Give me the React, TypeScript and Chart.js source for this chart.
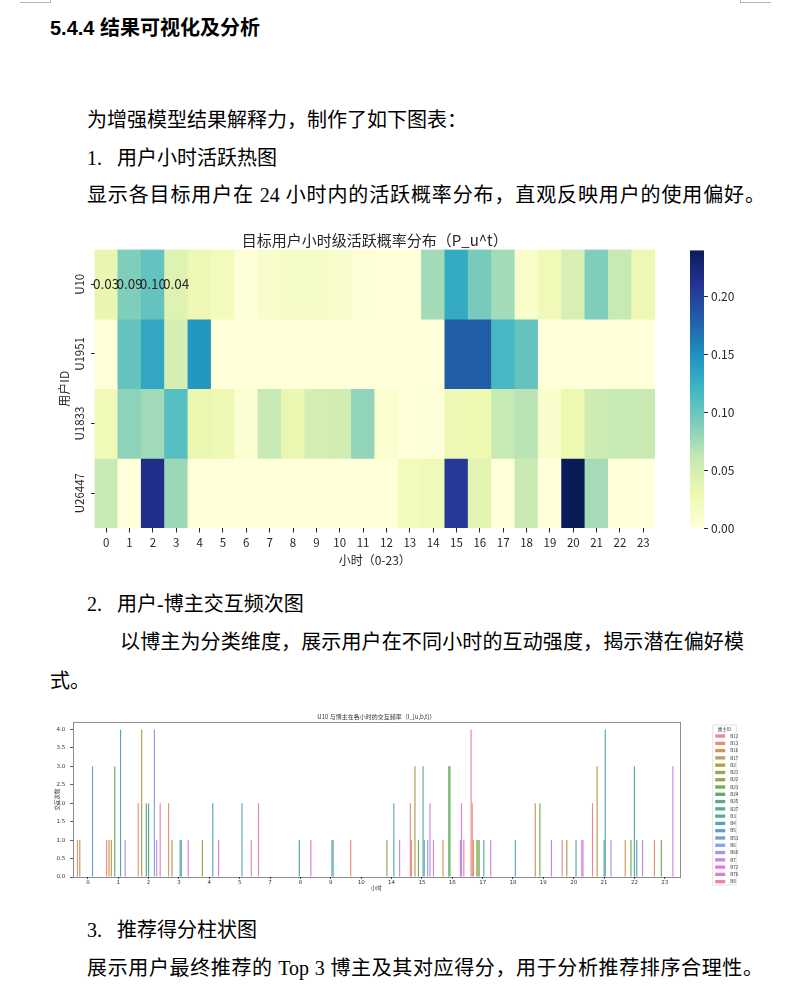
import React, { useEffect, useRef } from "react";
import { Chart, registerables } from "chart.js";

Chart.register(...registerables);

const FONT_CJK = '"Noto Sans CJK SC", sans-serif';
const FONT_NUM = '"DejaVu Sans", "Noto Sans CJK SC", sans-serif';
Chart.defaults.font.family = FONT_CJK;

// ---------- Heatmap data ----------
const heatHours = ["0", "1", "2", "3", "4", "5", "6", "7", "8", "9", "10", "11", "12", "13", "14", "15", "16", "17", "18", "19", "20", "21", "22", "23"];
const heatUsers = ["U10", "U1951", "U1833", "U26447"];
const heatU10 = [0.034, 0.09, 0.103, 0.042, 0.028, 0.02, 0.001, 0.01, 0.015, 0.015, 0.01, 0.003, 0, 0, 0.075, 0.13, 0.094, 0.075, 0.01, 0.025, 0.048, 0.09, 0.06, 0.028];
const heatU1951 = [0, 0.103, 0.132, 0.05, 0.145, 0, 0, 0, 0, 0, 0, 0, 0, 0, 0, 0.18, 0.18, 0.118, 0.103, 0, 0, 0, 0, 0];
const heatU1833 = [0.025, 0.084, 0.076, 0.11, 0.032, 0.026, 0.006, 0.06, 0.032, 0.05, 0.052, 0.082, 0.008, 0, 0.001, 0.028, 0.03, 0.06, 0.065, 0.01, 0.03, 0.055, 0.06, 0.058];
const heatU26447 = [0.058, 0, 0.215, 0.078, 0, 0, 0, 0, 0, 0, 0, 0, 0, 0.02, 0.024, 0.205, 0.038, 0, 0.058, 0, 0.24, 0.074, 0, 0];
const heatRows = [heatU10, heatU1951, heatU1833, heatU26447];
const annotatedHoursU10 = [0, 1, 2, 3];
const colorbarTicks = [0, 0.05, 0.1, 0.15, 0.2];
const YLGNBU = ["#ffffd9", "#edf8b1", "#c7e9b4", "#7fcdbb", "#41b6c4", "#1d91c0", "#225ea8", "#253494", "#081d58"];

// ---------- Interaction bar data ----------
const barHours = ["0", "1", "2", "3", "4", "5", "7", "8", "9", "10", "14", "15", "16", "17", "18", "19", "20", "21", "22", "23"];
const bloggers = ["B12", "B13", "B16", "B17", "B2", "B21", "B22", "B23", "B24", "B25", "B27", "B3", "B4", "B5", "B53", "B6", "B68", "B7", "B72", "B76", "B8"];
const bB12 = [0, 1, 0, 0, 0, 0, 2, 0, 0, 0, 0, 2, 0, 4, 0, 0, 1, 2, 0, 0];
const bB13 = [1, 0, 2, 2, 0, 0, 0, 0, 0, 1, 0, 1, 0, 2, 0, 0, 0, 0, 0, 1];
const bB16 = [0, 1, 0, 0, 0, 0, 0, 0, 0, 0, 0, 0, 1, 1, 0, 0, 0, 0, 1, 0];
const bB17 = [1, 0, 0, 0, 0, 0, 0, 0, 0, 0, 0, 0, 0, 0, 0, 2, 0, 0, 0, 0];
const bB2 = [0, 1, 4, 1, 1, 0, 0, 0, 0, 0, 0, 3, 0, 0, 0, 0, 1, 3, 0, 0];
const bB21 = [0, 0, 0, 0, 0, 0, 0, 0, 0, 0, 0, 0, 0, 1, 0, 0, 0, 0, 0, 0];
const bB22 = [0, 0, 0, 0, 0, 0, 0, 0, 0, 0, 1, 0, 0, 1, 0, 0, 0, 0, 0, 0];
const bB23 = [0, 3, 0, 0, 0, 0, 0, 0, 0, 0, 0, 1, 3, 1, 0, 2, 0, 0, 1, 1];
const bB24 = [0, 0, 2, 0, 0, 0, 0, 0, 0, 0, 0, 0, 3, 0, 0, 0, 0, 0, 0, 0];
const bB25 = [0, 0, 0, 0, 0, 0, 0, 1, 0, 0, 0, 0, 0, 0, 0, 0, 0, 0, 0, 0];
const bB27 = [0, 0, 2, 0, 0, 0, 0, 0, 0, 0, 0, 0, 0, 0, 0, 0, 0, 1, 3, 0];
const bB3 = [0, 0, 0, 1, 0, 0, 0, 0, 1, 0, 0, 3, 0, 1, 0, 0, 0, 4, 0, 0];
const bB4 = [0, 4, 0, 1, 0, 2, 0, 0, 1, 0, 2, 1, 0, 0, 1, 0, 1, 0, 1, 0];
const bB5 = [0, 0, 0, 0, 2, 0, 0, 0, 0, 0, 0, 0, 0, 0, 0, 0, 0, 0, 0, 0];
const bB53 = [3, 0, 0, 0, 0, 0, 0, 0, 0, 0, 0, 0, 0, 0, 0, 0, 0, 0, 0, 0];
const bB6 = [0, 0, 4, 0, 0, 0, 0, 0, 0, 0, 0, 1, 0, 0, 0, 0, 0, 0, 0, 0];
const bB68 = [0, 1, 0, 0, 0, 0, 0, 0, 0, 0, 0, 0, 0, 0, 0, 0, 0, 1, 0, 0];
const bB7 = [0, 0, 1, 0, 0, 0, 0, 0, 0, 0, 1, 2, 1, 1, 0, 1, 1, 0, 1, 3];
const bB72 = [0, 0, 0, 1, 1, 0, 0, 0, 0, 0, 0, 0, 2, 0, 0, 0, 1, 0, 0, 0];
const bB76 = [0, 0, 0, 0, 0, 0, 0, 1, 0, 0, 0, 0, 0, 0, 0, 0, 0, 0, 0, 0];
const bB8 = [0, 0, 2, 0, 0, 1, 0, 0, 0, 0, 0, 1, 1, 0, 0, 0, 0, 0, 0, 0];
const bloggerSeries = [bB12, bB13, bB16, bB17, bB2, bB21, bB22, bB23, bB24, bB25, bB27, bB3, bB4, bB5, bB53, bB6, bB68, bB7, bB72, bB76, bB8];
const bloggerColors = ["#e98a98", "#e8907a", "#d8954f", "#c49a55", "#ad9f52", "#9ea352", "#8ea852", "#6aae55", "#55ad72", "#55ab8c", "#56aa9b", "#57a9a6", "#58a7b2", "#5aa4c2", "#6aa1dc", "#8f9ee8", "#a895e8", "#c486e6", "#e07bdc", "#e37dc6", "#e585ac"];
const barYTicks = [0, 0.5, 1, 1.5, 2, 2.5, 3, 3.5, 4];

// ---------- helpers ----------
function hexToRgb(h: string) {
  const n = parseInt(h.slice(1), 16);
  return [(n >> 16) & 255, (n >> 8) & 255, n & 255];
}
function cmap(t: number) {
  const tt = Math.max(0, Math.min(1, t)) * (YLGNBU.length - 1);
  const i = Math.min(Math.floor(tt), YLGNBU.length - 2);
  const f = tt - i;
  const a = hexToRgb(YLGNBU[i]);
  const b = hexToRgb(YLGNBU[i + 1]);
  const c = a.map((av, k) => Math.round(av + (b[k] - av) * f));
  return `rgb(${c[0]},${c[1]},${c[2]})`;
}
function textColorFor(t: number) {
  const m = cmap(t).match(/\d+/g)!.map(Number).map((v) => {
    const s = v / 255;
    return s <= 0.03928 ? s / 12.92 : Math.pow((s + 0.055) / 1.055, 2.4);
  });
  const lum = 0.2126 * m[0] + 0.7152 * m[1] + 0.0722 * m[2];
  return lum > 0.408 ? "#262626" : "#ffffff";
}

const vmax = Math.max(...heatRows.flat());

function makeHeat(canvas: HTMLCanvasElement) {
  const decor = {
    id: "heatDecor",
    afterDatasetsDraw(chart: any) {
      const { ctx } = chart;
      const x = chart.scales.x;
      const y = chart.scales.y;
      ctx.save();
      ctx.font = `13.5px ${FONT_CJK}`;
      ctx.textAlign = "center";
      ctx.textBaseline = "middle";
      annotatedHoursU10.forEach((h) => {
        const v = heatU10[h];
        ctx.fillStyle = textColorFor(v / vmax);
        ctx.fillText(v.toFixed(2), x.getPixelForValue(h), y.getPixelForValue(0.5));
      });
      ctx.restore();
    },
    afterDraw(chart: any) {
      const { ctx, chartArea } = chart;
      const y = chart.scales.y;
      ctx.save();
      ctx.fillStyle = "#262626";
      ctx.font = `15px ${FONT_CJK}`;
      ctx.textAlign = "center";
      ctx.textBaseline = "middle";
      ctx.fillText("目标用户小时级活跃概率分布（P_u^t）", (chartArea.left + chartArea.right) / 2, 14);
      ctx.font = `11.5px ${FONT_CJK}`;
      heatUsers.forEach((u, i) => {
        ctx.save();
        ctx.translate(40, y.getPixelForValue(i + 0.5));
        ctx.rotate(-Math.PI / 2);
        ctx.fillText(u, 0, 0);
        ctx.restore();
      });
      ctx.restore();
    },
  };
  return new Chart(canvas, {
    type: "bar",
    data: {
      labels: heatHours,
      datasets: heatRows.map((row, r) => ({
        label: heatUsers[r],
        data: row.map(() => [r, r + 1]),
        backgroundColor: row.map((v) => cmap(v / vmax)),
        borderWidth: 0,
        barPercentage: 1,
        categoryPercentage: 1,
        grouped: false,
      })) as any,
    },
    options: {
      responsive: false,
      animation: false,
      layout: { padding: { top: 23.5, right: 25, bottom: 0, left: 0 } },
      plugins: { legend: { display: false }, tooltip: { enabled: false }, title: { display: false } },
      scales: {
        x: {
          type: "category",
          grid: { display: true, drawOnChartArea: false, drawTicks: true, tickLength: 4.5, offset: false, color: "#262626" },
          border: { display: false },
          ticks: { font: { size: 11.5, family: FONT_CJK }, color: "#262626", padding: 3.5, autoSkip: false, maxRotation: 0 },
          title: { display: true, text: "小时（0-23）", font: { size: 12, family: FONT_CJK }, color: "#262626", padding: { top: 0, bottom: 8.8 } },
          afterFit: (s: any) => { s.height = 48; },
        },
        y: {
          type: "linear",
          min: 0,
          max: 4,
          reverse: true,
          afterBuildTicks: (s: any) => { s.ticks = heatUsers.map((_, i) => ({ value: i + 0.5 })); },
          ticks: { display: false },
          grid: { display: true, drawOnChartArea: false, drawTicks: true, tickLength: 3.5, color: "#262626" },
          border: { display: false },
          title: { display: true, text: "用户ID", font: { size: 12, family: FONT_CJK }, color: "#262626", padding: { top: 16.8, bottom: 0 } },
          afterFit: (s: any) => { s.width = 54.5; },
        },
      },
    } as any,
    plugins: [decor],
  });
}

function makeColorbar(canvas: HTMLCanvasElement) {
  return new Chart(canvas, {
    type: "bar",
    data: {
      labels: ["P_u^t"],
      datasets: [
        {
          data: [[0, vmax]] as any,
          backgroundColor: (c: any) => {
            const area = c.chart.chartArea;
            if (!area) return "transparent";
            const g = c.chart.ctx.createLinearGradient(0, area.bottom, 0, area.top);
            YLGNBU.forEach((col, i) => g.addColorStop(i / (YLGNBU.length - 1), col));
            return g;
          },
          borderWidth: 0,
          barPercentage: 1,
          categoryPercentage: 1,
          inflateAmount: 0,
        } as any,
      ],
    },
    options: {
      responsive: false,
      animation: false,
      layout: { padding: { left: 10, top: 9.5, bottom: 12, right: 0 } },
      plugins: { legend: { display: false }, tooltip: { enabled: false } },
      scales: {
        x: { display: false },
        y: {
          position: "right",
          min: 0,
          max: vmax,
          afterBuildTicks: (s: any) => { s.ticks = colorbarTicks.map((v) => ({ value: v })); },
          ticks: { callback: (v: any) => Number(v).toFixed(2), padding: 3, font: { size: 12, family: FONT_CJK }, color: "#262626" },
          grid: { display: true, drawOnChartArea: false, tickLength: 4, color: "#262626" },
          border: { display: false },
          afterFit: (s: any) => { s.width = 76; },
        },
      },
    } as any,
  });
}

function makeBars(canvas: HTMLCanvasElement) {
  const decor = {
    id: "barDecor",
    afterDraw(chart: any) {
      const { ctx, chartArea: a } = chart;
      ctx.save();
      ctx.strokeStyle = "rgba(0,0,0,0.45)";
      ctx.lineWidth = 1;
      ctx.strokeRect(Math.round(a.left) + 0.5, Math.round(a.top) + 0.5, Math.round(a.right - a.left), Math.round(a.bottom - a.top));
      ctx.fillStyle = "#333";
      ctx.font = `6px ${FONT_CJK}`;
      ctx.textAlign = "center";
      ctx.textBaseline = "middle";
      ctx.fillText("U10 与博主在各小时的交互频率（I_{u,b,t}）", (a.left + a.right) / 2, 11.5);
      // legend
      const lx = 672.7, ly = 20, lw = 23.5, lh = 160;
      ctx.strokeStyle = "#d6d6d6";
      ctx.lineWidth = 0.7;
      ctx.beginPath();
      ctx.rect(lx, ly, lw, lh);
      ctx.stroke();
      ctx.font = `4.6px ${FONT_CJK}`;
      ctx.fillStyle = "#333";
      ctx.fillText("博主ID", lx + lw / 2, ly + 3.8);
      ctx.textAlign = "left";
      chart.data.datasets.forEach((ds: any, j: number) => {
        const yy = ly + 11 + j * 7.28;
        ctx.fillStyle = ds.backgroundColor;
        ctx.fillRect(lx + 2.5, yy - 1.6, 10, 3.3);
        ctx.fillStyle = "#333";
        ctx.fillText(ds.label, lx + 17.5, yy);
      });
      ctx.restore();
    },
  };
  return new Chart(canvas, {
    type: "bar",
    data: {
      labels: barHours,
      datasets: bloggers.map((b, k) => ({
        label: b,
        data: bloggerSeries[k],
        backgroundColor: bloggerColors[k],
        borderWidth: 0,
        barPercentage: 1,
        categoryPercentage: 0.8,
      })),
    },
    options: {
      responsive: false,
      animation: false,
      layout: { padding: { top: 17, right: 70, bottom: 0, left: 0 } },
      plugins: { legend: { display: false }, tooltip: { enabled: false } },
      scales: {
        x: {
          grid: { display: true, drawOnChartArea: false, tickLength: 2, offset: false, color: "#555" },
          border: { display: false },
          ticks: { font: { size: 5.5, family: FONT_NUM }, color: "#333", padding: 0, autoSkip: false, maxRotation: 0 },
          title: { display: true, text: "小时", font: { size: 5.5, family: FONT_CJK }, color: "#333", padding: { top: 0, bottom: 8.7 } },
          afterFit: (s: any) => { s.height = 23; },
        },
        y: {
          min: 0,
          max: 4.2,
          afterBuildTicks: (s: any) => { s.ticks = barYTicks.map((v) => ({ value: v })); },
          ticks: { callback: (v: any) => Number(v).toFixed(1), font: { size: 5.5, family: FONT_NUM }, color: "#333", padding: 5 },
          grid: { display: true, drawOnChartArea: false, tickLength: 2.5, color: "#555" },
          border: { display: false },
          title: { display: true, text: "交互次数", font: { size: 5.5, family: FONT_CJK }, color: "#333", padding: { top: 13.7, bottom: 0 } },
          afterFit: (s: any) => { s.width = 32.7; },
        },
      },
    } as any,
    plugins: [decor],
  });
}

const BODY_FONT = '"Liberation Serif", "Noto Sans CJK SC", serif';

function Line(props: { x: number; cy: number; text: string; width?: number; bold?: boolean; size?: number }) {
  const size = props.size || 20;
  const style: React.CSSProperties = {
    position: "absolute",
    left: props.x,
    top: props.cy - size * 0.45,
    fontSize: size,
    lineHeight: `${size}px`,
    fontFamily: props.bold ? '"Liberation Sans", "Noto Sans CJK SC", sans-serif' : BODY_FONT,
    fontWeight: props.bold ? 700 : 400,
    color: "#000",
    whiteSpace: props.width ? "normal" : "nowrap",
  };
  if (props.width) {
    style.width = props.width;
    style.textAlign = "justify";
    (style as any).textAlignLast = "justify";
  }
  return <div style={style}>{props.text}</div>;
}

export default function App() {
  const heatRef = useRef<HTMLCanvasElement>(null);
  const cbRef = useRef<HTMLCanvasElement>(null);
  const barRef = useRef<HTMLCanvasElement>(null);

  useEffect(() => {
    const charts = [makeHeat(heatRef.current!), makeColorbar(cbRef.current!), makeBars(barRef.current!)];
    return () => charts.forEach((c) => c.destroy());
  }, []);

  const abs = (l: number, t: number, w: number, h: number): React.CSSProperties => ({ position: "absolute", left: l, top: t, width: w, height: h, display: "block" });

  return (
    <div style={{ position: "absolute", left: 0, top: 0, width: 790, height: 1004, background: "#fff", overflow: "hidden" }}>
      <div style={{ position: "absolute", left: 20, top: 0, width: 30, height: 2, borderBottom: "1px solid #b5b5b5", borderRight: "1px solid #b5b5b5" }} />
      <div style={{ position: "absolute", left: 740, top: 0, width: 30, height: 2, borderBottom: "1px solid #b5b5b5", borderLeft: "1px solid #b5b5b5" }} />
      <Line x={50} cy={27} text="5.4.4 结果可视化及分析" bold />
      <Line x={87} cy={119} text="为增强模型结果解释力，制作了如下图表：" />
      <Line x={87} cy={157} text="1." />
      <Line x={117} cy={157} text="用户小时活跃热图" />
      <Line x={87} cy={194} width={678} text="显示各目标用户在 24 小时内的活跃概率分布，直观反映用户的使用偏好。" />
      <canvas ref={heatRef} width={640} height={350} style={abs(40, 226, 640, 350)} />
      <canvas ref={cbRef} width={100} height={300} style={abs(680, 240, 100, 300)} />
      <Line x={87} cy={603} text="2." />
      <Line x={117} cy={603} text="用户-博主交互频次图" />
      <Line x={120} cy={641} width={624} text="以博主为分类维度，展示用户在不同小时的互动强度，揭示潜在偏好模" />
      <Line x={50} cy={680} text="式。" />
      <canvas ref={barRef} width={710} height={195} style={abs(40, 705, 710, 195)} />
      <Line x={87} cy={929} text="3." />
      <Line x={117} cy={929} text="推荐得分柱状图" />
      <Line x={87} cy={967} width={676} text="展示用户最终推荐的 Top 3  博主及其对应得分，用于分析推荐排序合理性。" />
    </div>
  );
}
